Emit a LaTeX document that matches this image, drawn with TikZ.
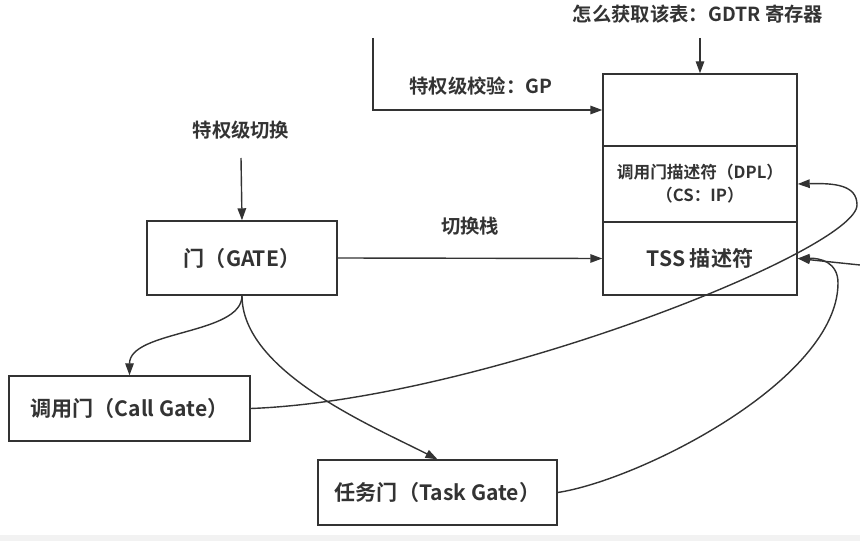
\documentclass[tikz,border=0pt]{standalone}
\usepackage{fontspec}
\setmainfont{Noto Sans CJK SC}[BoldFont={Noto Sans CJK SC Bold}]
\usepackage{xcolor}
\usepackage{tikz}
\usetikzlibrary{positioning,calc,arrows.meta}

\definecolor{linec}{HTML}{333333}
\definecolor{textc}{HTML}{333333}

\tikzset{
    box/.style={draw=linec, line width=0.8pt, rectangle, inner sep=0pt, text=textc, font=\bfseries},
    gatebox/.style={box, font=\bfseries\fontsize{12}{14}\selectfont},
    lbl/.style={text=textc, font=\bfseries\fontsize{11}{13}\selectfont, inner sep=0pt},
    conn/.style={draw=linec, line width=0.8pt}
}

\begin{document}
\begin{tikzpicture}[>={Triangle[length=2.4mm,width=1.7mm]}]
    \useasboundingbox (0,0) rectangle (17.2,10.82);
    \fill[gray!10] (0,0) rectangle (17.2,0.12);

    % descriptor table
    \node [box, minimum width=3.88cm, minimum height=1.44cm] (row1) at (14.0, 8.62) {};
    \node [box, minimum width=3.88cm, minimum height=1.52cm, font=\bfseries\fontsize{9.5}{13}\selectfont, align=center] (row2) at (14.0, 7.14) {调用门描述符（DPL）\\（CS：IP）};
    \node [box, minimum width=3.88cm, minimum height=1.46cm, font=\bfseries\fontsize{12}{14}\selectfont] (row3) at (14.0, 5.65) {TSS 描述符};

    \node [lbl] (gdtr) at (13.96, 10.54) {怎么获取该表：GDTR 寄存器};
    \coordinate (gdtrin) at (14.0, 10.06);
    \draw [conn, ->] (gdtrin) -- (row1.north);

    \coordinate (gpin) at (7.46, 10.06);
    \node [lbl] (gp) at (9.62, 9.1) {特权级校验：GP};
    \draw [conn, ->] (gpin) |- (row1.west);

    % gates
    \node [gatebox, minimum width=3.8cm, minimum height=1.48cm] (gate) at (4.84, 5.66) {门（GATE）};
    \node [lbl] (switch) at (4.82, 8.22) {特权级切换};
    \coordinate (switchin) at (4.82, 7.66);
    \draw [conn, ->] (switchin) -- (gate.north);

    \node [lbl] (stack) at (9.4, 6.3) {切换栈};
    \draw [conn, ->] (gate.east) -- (row3.west);

    \node [gatebox, minimum width=4.82cm, minimum height=1.3cm] (call) at (2.59, 2.65) {调用门（Call Gate）};
    \node [gatebox, minimum width=4.78cm, minimum height=1.3cm] (task) at (8.75, 0.97) {任务门（Task Gate）};

    \draw [conn, ->] (gate.south) .. controls (4.84,4.12) and (2.59,4.22) .. (call.north);
    \draw [conn, ->] (gate.south) .. controls (4.84,3.4) and (7.4,2.32) .. (task.north);

    % back to the table
    \draw [conn, ->] (call.east) .. controls (9.6,2.82) and (17.14,5.82) .. (17.14,6.72)
        .. controls (17.14,7.12) and (16.7,7.16) .. (row2.east);
    \draw [conn, ->] (task.east) .. controls (12.8,1.22) and (16.76,3.22) .. (16.76,5.16)
        .. controls (16.76,5.58) and (16.4,5.66) .. (row3.east);
    \coordinate (tssin) at (17.2, 5.52);
    \draw [conn, ->] (tssin) -- (row3.east);
\end{tikzpicture}
\end{document}
